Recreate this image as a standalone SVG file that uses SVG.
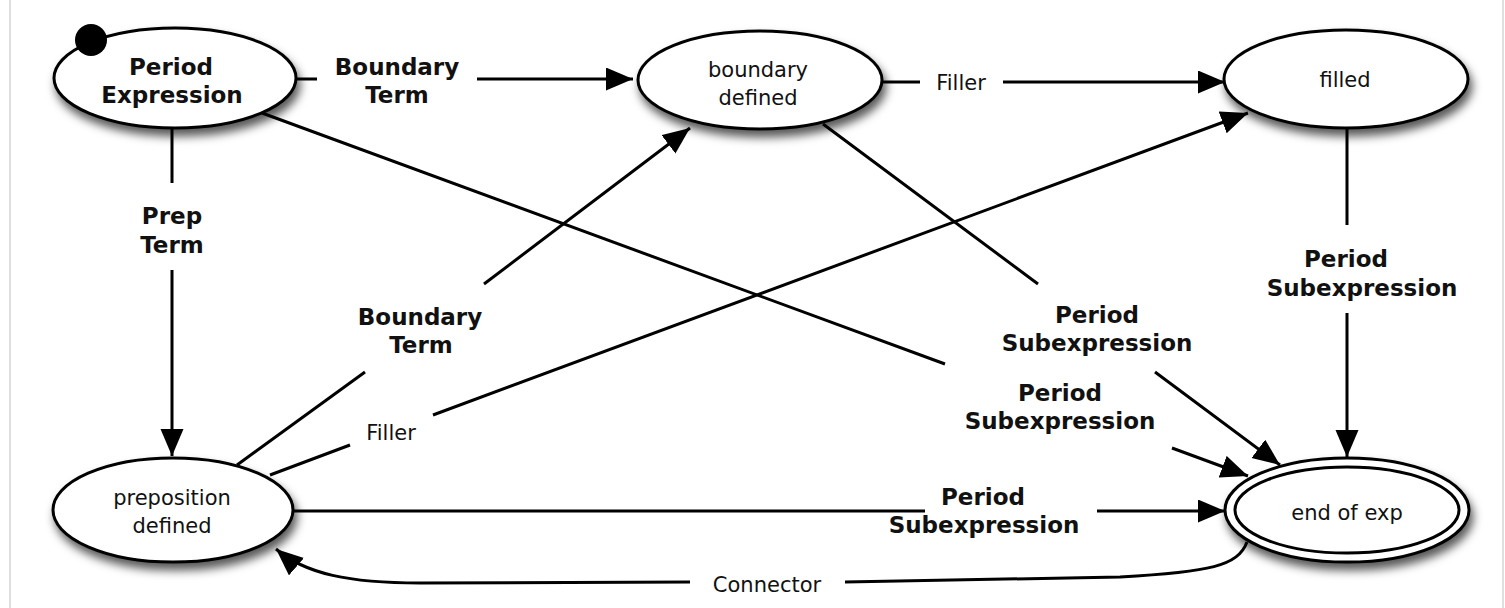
<svg xmlns="http://www.w3.org/2000/svg" width="1505" height="608" viewBox="0 0 1505 608">
<style>
.node{fill:#fff;stroke:#000;stroke-width:3}
.inner{fill:none;stroke:#000;stroke-width:3}
.lbl{font-family:"DejaVu Sans",sans-serif;font-size:21px;fill:#111;text-anchor:middle}
.bold{font-family:"DejaVu Sans",sans-serif;font-size:23px;font-weight:bold;fill:#111;text-anchor:middle}
.edge{fill:none;stroke:#000;stroke-width:3}
.arr{marker-end:url(#ah)}
.frame{stroke:#d4d4d4;stroke-width:1.5}
</style>
<defs>
<marker id="ah" markerUnits="userSpaceOnUse" markerWidth="28" markerHeight="24" refX="27" refY="11.5" orient="auto">
<path d="M0,0 L27,11.5 L0,23 z" fill="#000"/>
</marker>
<filter id="sh" x="-20%" y="-30%" width="150%" height="180%">
<feDropShadow dx="3" dy="7" stdDeviation="5" flood-color="#000" flood-opacity="0.65"/>
</filter>
</defs>
<rect width="1505" height="608" fill="#fff"/>
<line class="frame" x1="10" y1="0" x2="10" y2="608"/>
<line class="frame" x1="1503" y1="0" x2="1503" y2="608"/>

<g id="connectors">
<path class="edge arr" d="M295,79 L317,79 M477,79 L633,79"/>
<text class="bold" x="397" y="75">Boundary</text>
<text class="bold" x="397" y="103">Term</text>

<path class="edge arr" d="M882,82 L920,82 M1003,82 L1225,82"/>
<text class="lbl" x="961" y="90">Filler</text>

<path class="edge arr" d="M172,128 L172,183 M172,270 L172,456"/>
<text class="bold" x="172" y="224">Prep</text>
<text class="bold" x="172" y="253">Term</text>

<path class="edge arr" d="M262,113 L945,364 M1172,448 L1248,476"/>
<text class="bold" x="1060" y="401">Period</text>
<text class="bold" x="1060" y="429">Subexpression</text>

<path class="edge arr" d="M823,124 L1038,284 M1155,372 L1280,465"/>
<text class="bold" x="1097" y="323">Period</text>
<text class="bold" x="1097" y="351">Subexpression</text>

<path class="edge arr" d="M237,465 L365,372 M484,284 L690,128"/>
<text class="bold" x="420" y="325">Boundary</text>
<text class="bold" x="421" y="353">Term</text>

<path class="edge arr" d="M270,475 L350,445 M433,415 L1248,113"/>
<text class="lbl" x="391" y="440">Filler</text>

<path class="edge arr" d="M1347,128 L1347,225 M1347,313 L1347,457"/>
<text class="bold" x="1346" y="267">Period</text>
<text class="bold" x="1362" y="296">Subexpression</text>

<path class="edge arr" d="M292,511 L925,511 M1097,511 L1225,511"/>
<text class="bold" x="983" y="505">Period</text>
<text class="bold" x="984" y="533">Subexpression</text>

<path class="edge arr" d="M1247,542 C1238,566 1210,572 1120,577 L845,582 M690,582 L420,583 C350,583 305,574 276,549"/>
<text class="lbl" x="767" y="592">Connector</text>
</g>

<g id="period-expression">
<ellipse class="node" cx="175" cy="78" rx="121" ry="50" filter="url(#sh)"/>
<circle cx="91" cy="40" r="16" fill="#000"/>
<text class="bold" x="171" y="75">Period</text>
<text class="bold" x="172" y="103">Expression</text>
</g>

<g id="boundary-defined">
<ellipse class="node" cx="760" cy="80" rx="122" ry="49" filter="url(#sh)"/>
<text class="lbl" x="758" y="77">boundary</text>
<text class="lbl" x="758" y="105">defined</text>
</g>

<g id="filled">
<ellipse class="node" cx="1346" cy="79" rx="122" ry="49" filter="url(#sh)"/>
<text class="lbl" x="1345" y="87">filled</text>
</g>

<g id="preposition-defined">
<ellipse class="node" cx="173" cy="510" rx="120" ry="52" filter="url(#sh)"/>
<text class="lbl" x="172" y="505">preposition</text>
<text class="lbl" x="172" y="533">defined</text>
</g>

<g id="end-of-exp">
<ellipse class="node" cx="1347" cy="510" rx="122" ry="52" filter="url(#sh)"/>
<ellipse class="inner" cx="1347" cy="510" rx="112" ry="43"/>
<text class="lbl" x="1347" y="520">end of exp</text>
</g>
</svg>
